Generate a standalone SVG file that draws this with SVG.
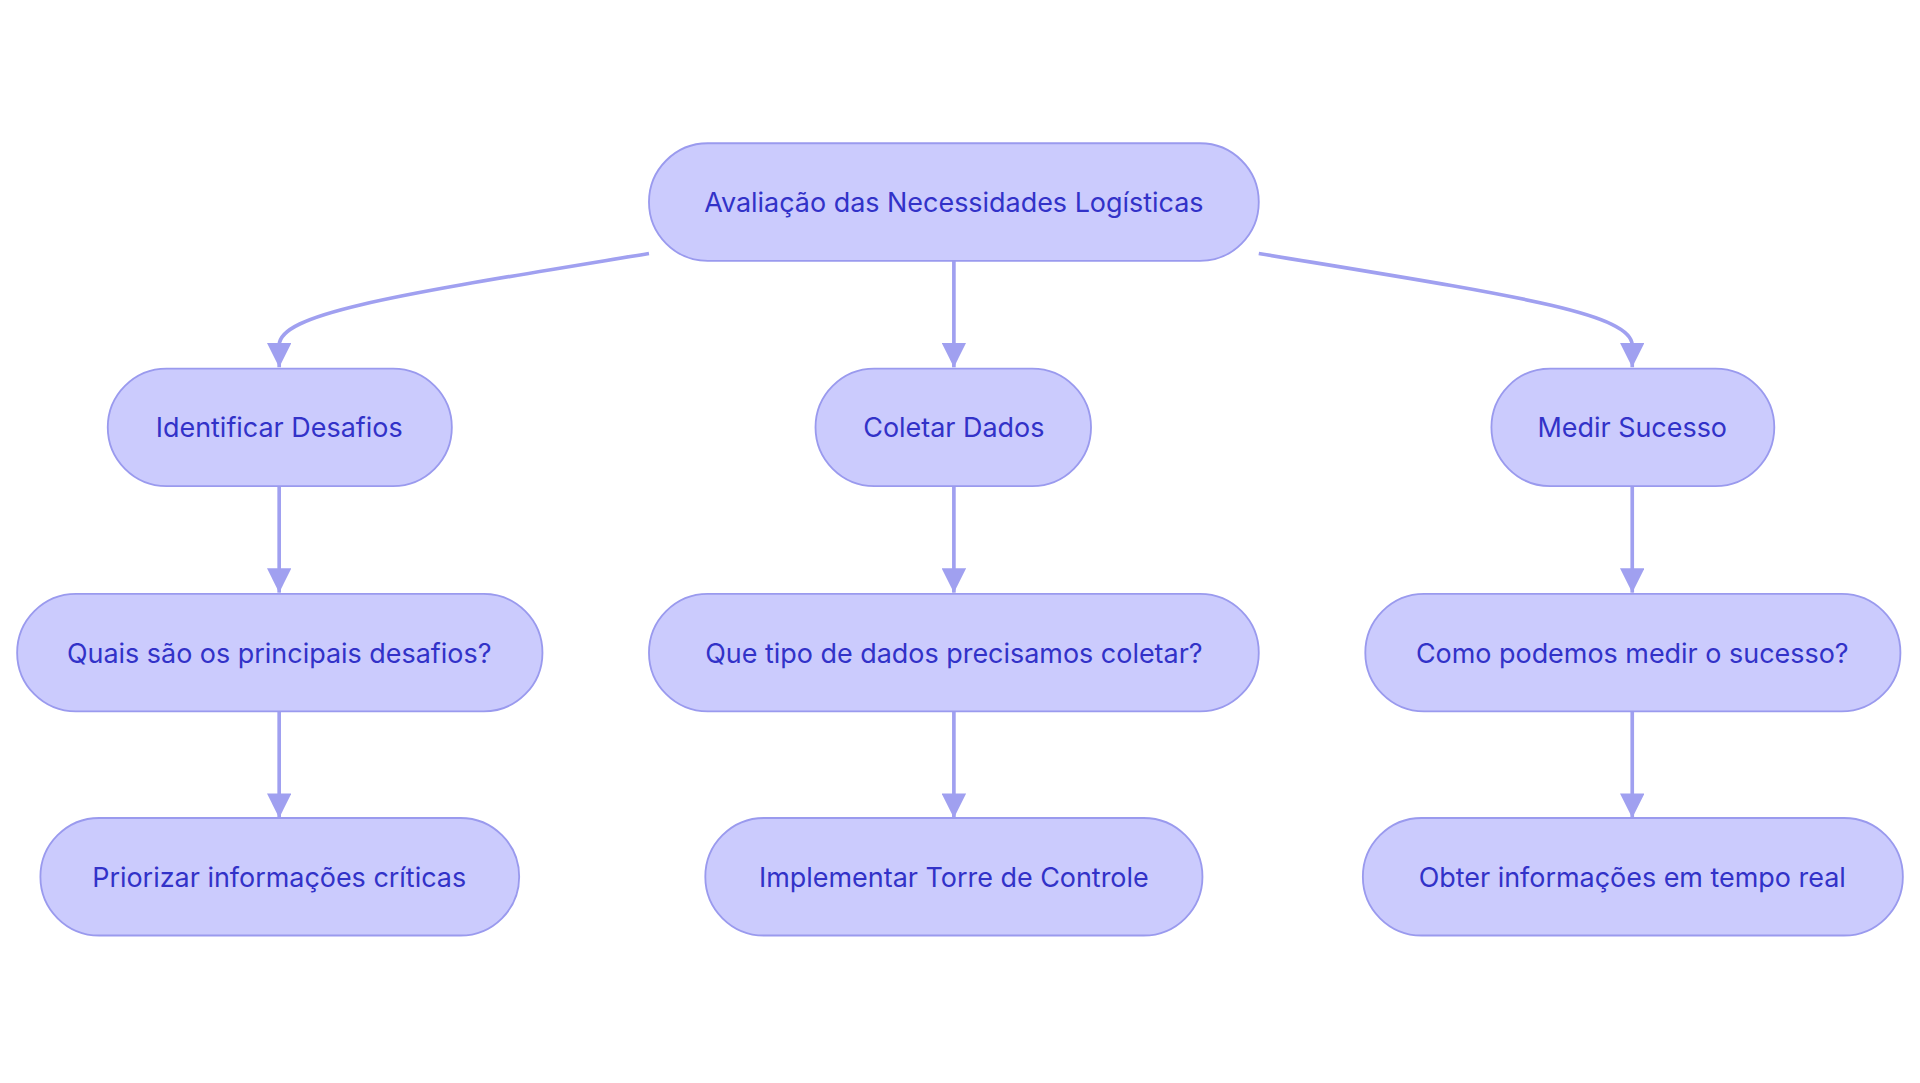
<svg xmlns="http://www.w3.org/2000/svg" width="1920" height="1083" viewBox="0 0 1920 1083">
<style>
.n rect{fill:#cbcbfd;stroke:#9a9aee;stroke-width:1.5}
.n text{font-family:Inter,"Noto Sans",sans-serif;font-size:22px;fill:#3232c8;text-anchor:middle;dominant-baseline:central}
.e path{fill:none;stroke:#a0a0f0;stroke-width:3;marker-end:url(#a)}
</style>
<defs><marker id="a" viewBox="0 0 10 10" refX="9" refY="5" markerWidth="7" markerHeight="7" markerUnits="userSpaceOnUse" orient="auto"><path d="M0,0L10,5L0,10z" fill="#a0a0f0"/></marker>
<marker id="b" viewBox="0 0 10 10" refX="10" refY="5" markerWidth="20" markerHeight="20" markerUnits="userSpaceOnUse" orient="auto"><path d="M0,0L10,5L0,10z" fill="#a0a0f0"/></marker></defs>
<rect width="1920" height="1083" fill="#fff"/>
<g transform="scale(1.22449)">
<g class="e">
<path style="marker-end:url(#b)" d="M530,207 C330,240 228,255 228,282 L228,300"/>
<path style="marker-end:url(#b)" d="M779,213 L779,300"/>
<path style="marker-end:url(#b)" d="M1028,207 C1228,240 1333,255 1333,282 L1333,300"/>
<path style="marker-end:url(#b)" d="M228,397 L228,484"/>
<path style="marker-end:url(#b)" d="M779,397 L779,484"/>
<path style="marker-end:url(#b)" d="M1333,397 L1333,484"/>
<path style="marker-end:url(#b)" d="M228,581 L228,668"/>
<path style="marker-end:url(#b)" d="M779,581 L779,668"/>
<path style="marker-end:url(#b)" d="M1333,581 L1333,668"/>
</g>
<g id="n0" class="n"><rect x="530" y="117" width="498" height="96" rx="48"/><text x="779" y="165">Avaliação das Necessidades Logísticas</text></g>
<g id="n1" class="n"><rect x="88" y="301" width="281" height="96" rx="48"/><text x="228" y="349">Identificar Desafios</text></g>
<g id="n2" class="n"><rect x="666" y="301" width="225" height="96" rx="48"/><text x="779" y="349">Coletar Dados</text></g>
<g id="n3" class="n"><rect x="1218" y="301" width="231" height="96" rx="48"/><text x="1333" y="349">Medir Sucesso</text></g>
<g id="n4" class="n"><rect x="14" y="485" width="429" height="96" rx="48"/><text x="228" y="533">Quais são os principais desafios?</text></g>
<g id="n5" class="n"><rect x="530" y="485" width="498" height="96" rx="48"/><text x="779" y="533">Que tipo de dados precisamos coletar?</text></g>
<g id="n6" class="n"><rect x="1115" y="485" width="437" height="96" rx="48"/><text x="1333" y="533">Como podemos medir o sucesso?</text></g>
<g id="n7" class="n"><rect x="33" y="668" width="391" height="96" rx="48"/><text x="228" y="716">Priorizar informações críticas</text></g>
<g id="n8" class="n"><rect x="576" y="668" width="406" height="96" rx="48"/><text x="779" y="716">Implementar Torre de Controle</text></g>
<g id="n9" class="n"><rect x="1113" y="668" width="441" height="96" rx="48"/><text x="1333" y="716">Obter informações em tempo real</text></g>
</g>
</svg>
